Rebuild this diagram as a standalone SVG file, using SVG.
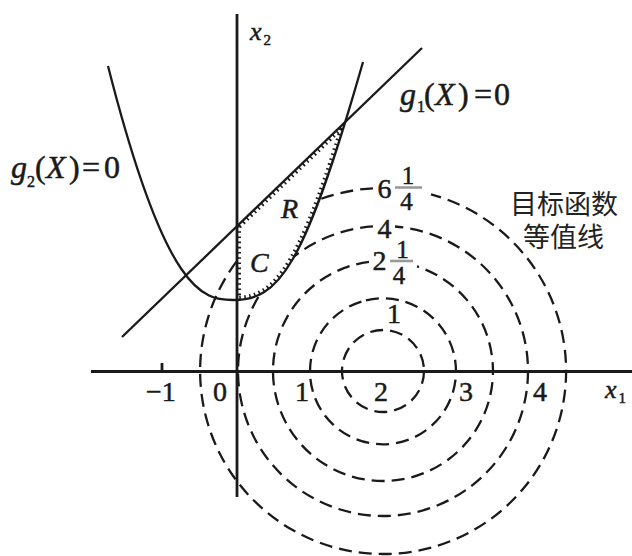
<svg xmlns="http://www.w3.org/2000/svg" width="632" height="556" viewBox="0 0 632 556">
<style>
.ax{stroke:#1a1a1a;stroke-width:2.8;fill:none}
.cv{stroke:#1a1a1a;stroke-width:2.3;fill:none}
.ct{stroke:#1a1a1a;stroke-width:2.3;fill:none;stroke-dasharray:13 7}
.ht{stroke:#1a1a1a;stroke-width:8;fill:none;stroke-dasharray:1.6 3.6}
.t{font-family:"Liberation Serif","Times New Roman",serif;fill:#1a1a1a;stroke:#1a1a1a;stroke-width:0.5}
.i{font-style:italic}
.cjk{font-family:"Noto Sans CJK SC",sans-serif;font-size:27px;fill:#222}
.fb{stroke:#9a9a9a;stroke-width:2.6}
</style>
<defs>
<clipPath id="clipLine"><polygon points="237,226.2 500,-27.1 500,600 237,600"/></clipPath>
<clipPath id="clipPara"><path d="M108,66 C168,294 203,300 233,300 C278,300 303,272 363,62 Z"/></clipPath>
<mask id="hideRegion" maskUnits="userSpaceOnUse" x="0" y="0" width="632" height="556">
<rect width="632" height="556" fill="#fff"/>
<g clip-path="url(#clipLine)"><path d="M108,66 C168,294 203,300 233,300 C278,300 303,272 363,62 Z" fill="#000"/></g>
</mask>
</defs>
<rect width="632" height="556" fill="#fff"/>

<g id="contours" mask="url(#hideRegion)">
<path id="c625" class="ct" d="M373,188.3 A183,183 0 1 0 431,194.4"/>
<path id="c4" class="ct" d="M373,226.35 A145,145 0 1 0 395,226.5"/>
<path id="c225" class="ct" d="M369,261.9 A110,110 0 1 0 417,266.4"/>
<path id="c1" class="ct" d="M366,300.3 A73,73 0 0 1 400,300.3 A73,73 0 1 1 366,300.3"/>
<circle id="c0" class="ct" cx="383" cy="371" r="41"/>
</g>

<g id="axes">
<path class="ax" d="M91,371.5 H632"/>
<path class="ax" d="M237,14 V497"/>
<path class="ax" d="M162,363 V371"/>
</g>

<g id="connectors">
<path id="g1" class="cv" d="M122,337 L422,48"/>
<path id="g2" class="cv" d="M108,66 C166,294 203,300 233,300 C278,300 303,272 363,62"/>
</g>

<g id="hatch" clip-path="url(#clipLine)">
<g clip-path="url(#clipPara)">
<path class="ht" d="M122,337 L422,48"/>
<path class="ht" d="M108,66 C168,294 203,300 233,300 C278,300 303,272 363,62"/>
<path class="ht" d="M237,200 V320"/>
</g>
</g>

<g id="axis-labels" class="t" font-size="28">
<text x="250" y="40" font-size="26"><tspan class="i">x</tspan><tspan font-size="15" dx="2" dy="5">2</tspan></text>
<text x="605" y="398" font-size="26"><tspan class="i">x</tspan><tspan font-size="15" dx="2" dy="5">1</tspan></text>
<text x="146" y="401">−1</text>
<text x="220" y="401" text-anchor="middle">0</text>
<text x="302" y="401" text-anchor="middle">1</text>
<text x="381" y="401" text-anchor="middle">2</text>
<text x="466" y="401" text-anchor="middle">3</text>
<text x="540" y="401" text-anchor="middle">4</text>
</g>

<g id="constraint-labels" class="t" font-size="32">
<text id="lbl-g2" y="178"><tspan x="11" class="i">g</tspan><tspan x="27" dy="9" font-size="16">2</tspan><tspan x="35" dy="-9">(</tspan><tspan x="46" class="i">X</tspan><tspan x="69">)</tspan><tspan x="82">=</tspan><tspan x="104">0</tspan></text>
<text id="lbl-g1" y="105"><tspan x="400" class="i">g</tspan><tspan x="417" dy="7" font-size="16">1</tspan><tspan x="424" dy="-7">(</tspan><tspan x="435" class="i">X</tspan><tspan x="458">)</tspan><tspan x="474">=</tspan><tspan x="494">0</tspan></text>
</g>

<g id="region-labels" class="t i" font-size="28">
<text x="281" y="218">R</text>
<text x="250" y="272">C</text>
</g>

<g id="level-labels" class="t" font-size="28">
<g id="lv625">
<text x="384.5" y="198" text-anchor="middle">6</text>
<text x="408" y="184" text-anchor="middle" font-size="25">1</text>
<line class="fb" x1="395" y1="187.5" x2="422" y2="187.5"/>
<text x="406.5" y="210" text-anchor="middle" font-size="25">4</text>
</g>
<text id="lv4" x="384.5" y="238" text-anchor="middle">4</text>
<g id="lv225">
<text x="379.5" y="270" text-anchor="middle">2</text>
<text x="402.5" y="258" text-anchor="middle" font-size="25">1</text>
<line class="fb" x1="390" y1="261" x2="413" y2="261"/>
<text x="399" y="284" text-anchor="middle" font-size="25">4</text>
</g>
<text id="lv1" x="394" y="323" text-anchor="middle">1</text>
</g>

<g id="legend">
<text class="cjk"><tspan x="510" y="214">目标函数</tspan><tspan x="523" y="247">等值线</tspan></text>
</g>
</svg>
